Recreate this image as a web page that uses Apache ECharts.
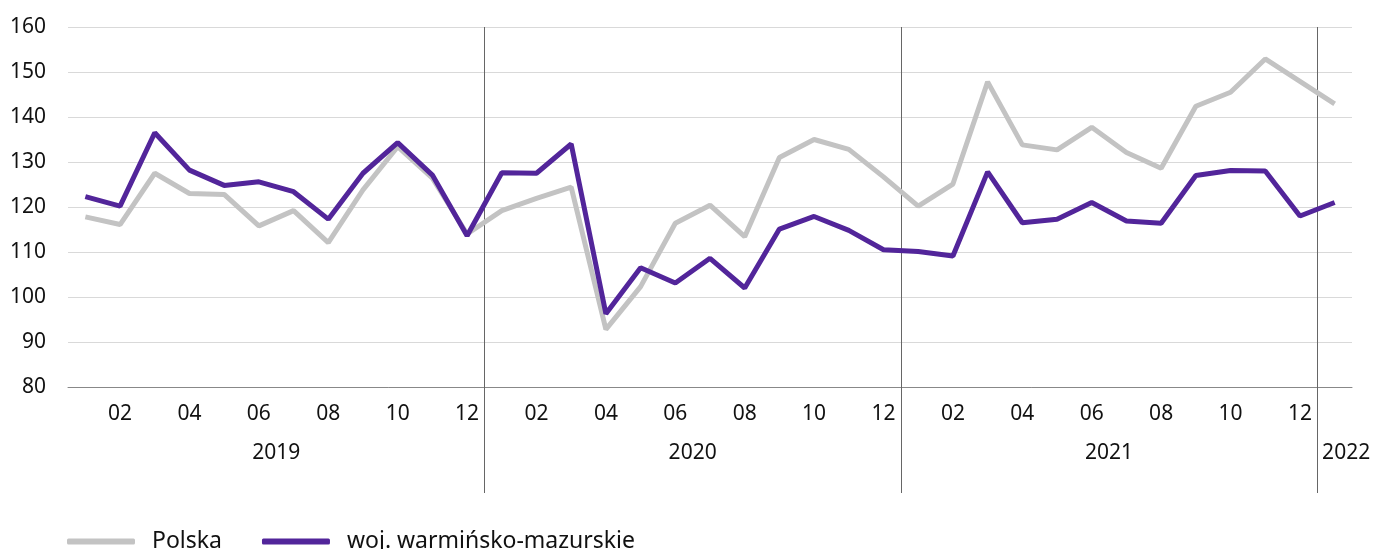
<!DOCTYPE html>
<html>
<head>
<meta charset="utf-8">
<script src="https://cdn.jsdelivr.net/npm/echarts@6/dist/echarts.min.js"></script>
<style>
  html, body { margin: 0; padding: 0; background: #fff; }
  #main { width: 1374px; height: 549px; }
</style>
</head>
<body>
<div id="main"></div>
<script>
// months 2019-01 .. 2022-01
const months = ['01','02','03','04','05','06','07','08','09','10','11','12',
                '01','02','03','04','05','06','07','08','09','10','11','12',
                '01','02','03','04','05','06','07','08','09','10','11','12',
                '01'];
const years = ['2019', '2020', '2021', '2022'];
const monthsPerYear = [12, 12, 12, 1];

const polska = [117.8, 116.1, 127.5, 123.0, 122.8, 115.8, 119.2, 112.1, 123.8, 133.4, 126.4, 114.0,
                119.2, 121.9, 124.4, 92.8, 102.3, 116.4, 120.4, 113.4, 131.0, 135.0, 132.8, 126.7,
                120.2, 125.1, 147.8, 133.8, 132.7, 137.7, 132.1, 128.6, 142.4, 145.5, 152.9, 147.9,
                142.9];
const warminsko = [122.3, 120.2, 136.5, 128.2, 124.8, 125.6, 123.4, 117.3, 127.5, 134.3, 127.1, 113.6,
                   127.6, 127.5, 134.0, 96.3, 106.5, 103.1, 108.6, 102.0, 115.1, 117.9, 114.8, 110.5,
                   110.1, 109.1, 127.8, 116.5, 117.3, 121.0, 116.9, 116.4, 127.0, 128.1, 128.0, 118.0,
                   121.0];

// year axis: half-category resolution (boundaries on even indexes, centres on odd ones)
const yearSlots = new Array(months.length * 2 + 1).fill('');
const yearBounds = [];
let start = 0;
years.forEach((y, k) => {
  const end = start + monthsPerYear[k];
  yearSlots[start + end] = y;           // middle of the year span, in half units
  if (k > 0) yearBounds.push(start * 2);
  start = end;
});

const font = 'Noto Sans';
const ink = '#111';
const chart = echarts.init(document.getElementById('main'));

chart.setOption({
  animation: false,
  grid: { left: 68, right: 22, top: 27, bottom: 162 },
  legend: {
    left: 62,
    top: 525,
    icon: 'roundRect',
    itemWidth: 68,
    itemHeight: 6,
    itemGap: 40,
    textStyle: { fontFamily: font, fontSize: 23, color: ink, padding: [0, 0, 0, 12] },
    data: ['Polska', 'woj. warmińsko-mazurskie']
  },
  xAxis: [
    {
      type: 'category',
      data: months,
      boundaryGap: true,
      axisLine: { lineStyle: { color: '#888', width: 1 } },
      axisTick: { interval: 0, length: 6, lineStyle: { color: '#888' } },
      axisLabel: {
        interval: (i) => i % 2 === 1,
        margin: 17,
        fontFamily: font,
        fontSize: 21,
        color: ink
      }
    },
    {
      type: 'category',
      position: 'bottom',
      data: yearSlots,
      boundaryGap: false,
      axisLine: { show: false },
      axisTick: {
        interval: (i) => yearBounds.includes(i),
        length: 106,
        lineStyle: { color: '#666', width: 1 }
      },
      splitLine: {
        show: true,
        interval: (i) => yearBounds.includes(i),
        lineStyle: { color: '#666', width: 1 }
      },
      axisLabel: {
        interval: (i) => yearSlots[i] !== '',
        margin: 56,
        fontFamily: font,
        fontSize: 21,
        color: ink,
        formatter: (v) => v === years[years.length - 1] ? '{last|' + v + '}' : v,
        rich: {
          last: { fontFamily: font, fontSize: 21, color: ink, padding: [0, 0, 0, 23] }
        }
      }
    }
  ],
  yAxis: {
    type: 'value',
    min: 80,
    max: 160,
    interval: 10,
    axisLine: { show: false },
    axisTick: { show: false },
    axisLabel: { margin: 22, fontFamily: font, fontSize: 21, color: ink },
    splitLine: { lineStyle: { color: '#d9d9d9', width: 1 } }
  },
  series: [
    {
      name: 'Polska',
      type: 'line',
      xAxisIndex: 0,
      data: polska,
      symbol: 'none',
      color: '#c3c3c3',
      lineStyle: { width: 5, color: '#c3c3c3' }
    },
    {
      name: 'woj. warmińsko-mazurskie',
      type: 'line',
      xAxisIndex: 0,
      data: warminsko,
      symbol: 'none',
      color: '#52259a',
      lineStyle: { width: 5, color: '#52259a' }
    }
  ]
});
</script>
</body>
</html>
